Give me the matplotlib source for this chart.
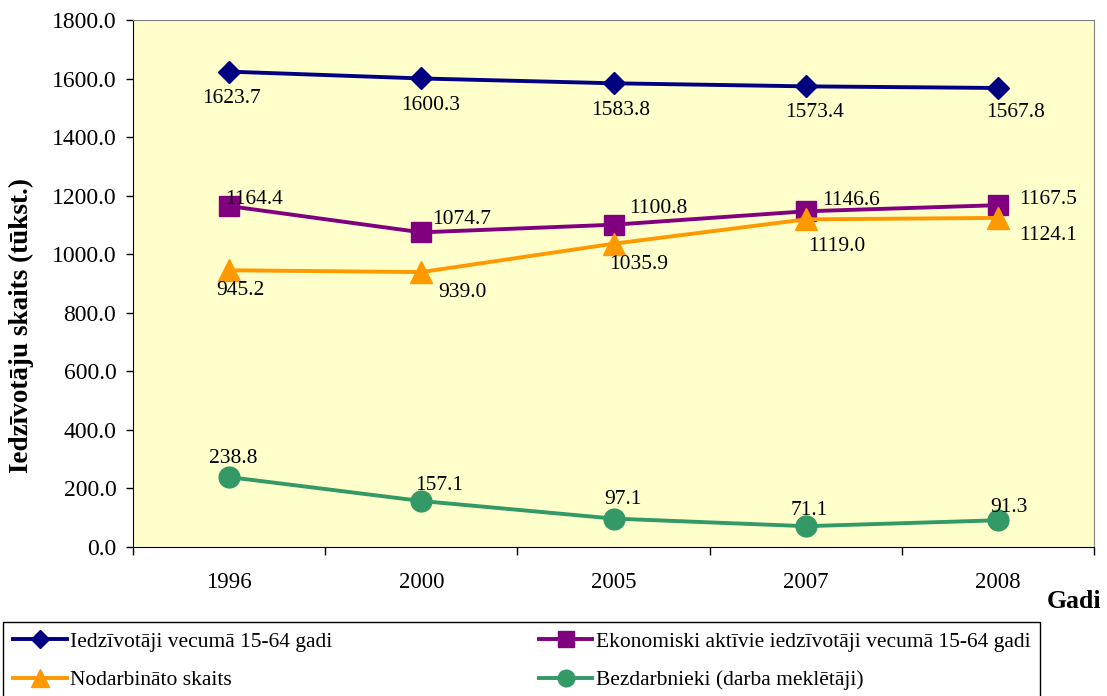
import numpy as np
import matplotlib.pyplot as plt
from matplotlib.ticker import FormatStrFormatter, FixedLocator

# ---------------------------------------------------------------------------
# Data
# ---------------------------------------------------------------------------

YEARS = ["1996", "2000", "2005", "2007", "2008"]

POP_15_64 = [1623.7, 1600.3, 1583.8, 1573.4, 1567.8]
ACTIVE    = [1164.4, 1074.7, 1100.8, 1146.6, 1167.5]
EMPLOYED  = [945.2, 939.0, 1035.9, 1119.0, 1124.1]
UNEMPLOY  = [238.8, 157.1, 97.1, 71.1, 91.3]

LABELS = [
    "Iedzīvotāji vecumā 15-64 gadi",
    "Ekonomiski aktīvie iedzīvotāji vecumā 15-64 gadi",
    "Nodarbināto skaits",
    "Bezdarbnieki (darba meklētāji)",
]

# ---------------------------------------------------------------------------
# Style
# ---------------------------------------------------------------------------

plt.rcParams.update({
    "font.family": "serif",
    "font.serif":  ["Liberation Serif", "DejaVu Serif"],
    "font.size":   17,
})

COLORS = ["#000080", "#800080", "#FF9900", "#339966"]
MARKERS = ["D", "s", "^", "o"]
MSIZES = [11.5, 15, 16, 15]

# label offsets (pixels) for each series / point
OFFS = [
    [(2, -24), (9, -24), (7, -24), (9, -23), (18, -22)],
    [(25, 10), (40, 16), (45, 19), (45, 14), (50, 9)],
    [(11, -17), (41, -17), (25, -18), (31, -24), (50, -15)],
    [(4, 22), (18, 19), (9, 22), (4, 19), (11, 16)],
]

x = np.arange(len(YEARS))

fig = plt.figure(figsize=(11.07, 6.96), dpi=100)
ax = fig.add_axes([133 / 1107, 1 - 547 / 696, 961 / 1107, 527 / 696])
ax.set_facecolor("#FFFFCC")

series = [POP_15_64, ACTIVE, EMPLOYED, UNEMPLOY]
handles = []
for vals, col, mk, ms, lab, offs in zip(series, COLORS, MARKERS, MSIZES, LABELS, OFFS):
    h, = ax.plot(x, vals, color=col, lw=2.8, marker=mk, ms=ms, mec=col, mfc=col,
                 mew=1, label=lab, zorder=3)
    handles.append(h)
    for xi, v, (dx, dy) in zip(x, vals, offs):
        ax.annotate(f"{v:.1f}", (xi, v), xytext=(dx, dy - 3),
                    textcoords="offset pixels", ha="center", va="center",
                    fontsize=15.5, zorder=4)

ax.set_xlim(-0.5, len(YEARS) - 0.5)
ax.set_ylim(0, 1800)
ax.set_yticks(np.arange(0, 1801, 200))
ax.yaxis.set_major_formatter(FormatStrFormatter("%.1f"))
ax.set_xticks(x)
ax.set_xticklabels(YEARS, fontsize=16.5)
ax.xaxis.set_minor_locator(FixedLocator(np.arange(-0.5, len(YEARS), 1.0)))
ax.tick_params(axis="x", which="major", length=0, pad=18)
ax.tick_params(axis="x", which="minor", length=6, direction="out", width=1)
ax.tick_params(axis="y", length=5, direction="out", width=1, pad=7)

for s in ("top", "right"):
    ax.spines[s].set_color("#808080")
for s in ("left", "bottom"):
    ax.spines[s].set_color("black")

ax.set_ylabel("Iedzīvotāju skaits (tūkst.)", fontsize=19.5, fontweight="bold")
ax.yaxis.set_label_coords(-0.103, 0.42)

fig.text(1101 / 1107, 1 - 601 / 696, "Gadi", ha="right", va="center",
         fontsize=18.5, fontweight="bold")

# row-wise legend order: 1 2 / 3 4
order = [0, 2, 1, 3]
fig.legend([handles[i] for i in order], [LABELS[i] for i in order],
           loc="upper left", ncol=2, mode="expand",
           bbox_to_anchor=(3 / 1107, 1 - 622 / 696, 1037 / 1107, 0.0),
           frameon=True, fancybox=False, edgecolor="black", framealpha=1,
           fontsize=15.5, handlelength=2.5, handletextpad=0.15,
           borderaxespad=0, markerscale=0.8, labelspacing=0.85,
           borderpad=0.45)

fig.savefig("out.png", dpi=100)
